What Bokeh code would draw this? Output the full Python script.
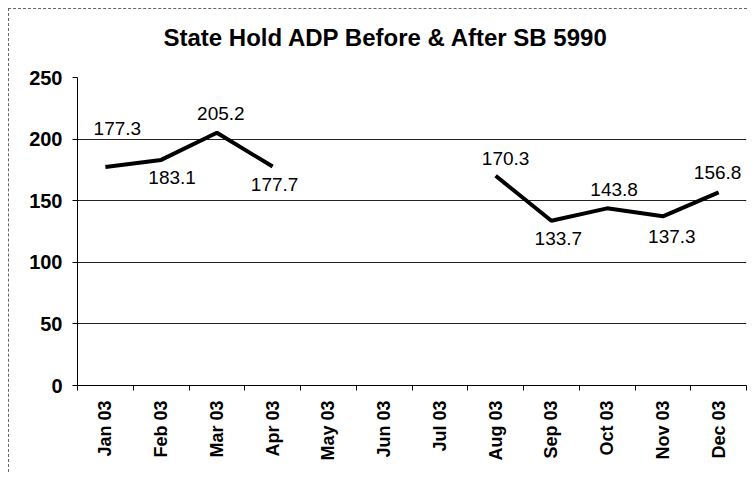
import math
from bokeh.plotting import figure
from bokeh.models import ColumnDataSource, Range1d, FixedTicker, Title
from bokeh.core.properties import value
from bokeh.embed import file_html
from bokeh.resources import INLINE

# ---- data ----
months = ["Jan 03", "Feb 03", "Mar 03", "Apr 03", "May 03", "Jun 03",
          "Jul 03", "Aug 03", "Sep 03", "Oct 03", "Nov 03", "Dec 03"]
adp = [177.3, 183.1, 205.2, 177.7, None, None, None,
       170.3, 133.7, 143.8, 137.3, 156.8]
y_ticks = [0, 50, 100, 150, 200, 250]
title_text = "State Hold ADP Before & After SB 5990"

# label placement (screen px offsets, style only)
lab_dx = [12, 11, 4, 2, 0, 0, 0, 10, 7, 7, 9, -1]
lab_dy = [-39, 18, -19, 18, 0, 0, 0, -17, 18, -19, 20, -20]

FONT = "Liberation Sans"

xs = [i + 0.5 for i in range(len(months))]
ys = [float("nan") if v is None else v for v in adp]
line_src = ColumnDataSource(dict(x=xs, y=ys))

lx, ly, lt, ldx, ldy = [], [], [], [], []
for i, v in enumerate(adp):
    if v is None:
        continue
    lx.append(xs[i]); ly.append(v); lt.append(f"{v:.1f}")
    ldx.append(lab_dx[i]); ldy.append(lab_dy[i])
lab_src = ColumnDataSource(dict(x=lx, y=ly, t=lt, dx=ldx, dy=ldy))

p = figure(width=739, height=464, output_backend="svg", toolbar_location=None,
           x_range=Range1d(0, len(months)), y_range=Range1d(0, 250),
           min_border_left=68, min_border_right=2, min_border_top=68,
           min_border_bottom=88, title=title_text)
p.styles = {"margin-left": "8px", "margin-top": "8px",
            "border-left": "1px dashed #666", "border-top": "1px dashed #666"}

# spacer between title and plot frame
p.add_layout(Title(text=" ", text_font_size="10px", standoff=14), "above")

p.title.align = "left"
p.title.offset = 86
p.title.standoff = 0
p.title.text_font = FONT
p.title.text_font_style = "bold"
p.title.text_font_size = "24px"
p.title.text_color = "black"

p.outline_line_color = None
p.background_fill_color = "white"
p.border_fill_color = "white"

p.line("x", "y", source=line_src, line_color="black", line_width=4)
p.text("x", "y", text="t", source=lab_src, x_offset="dx", y_offset="dy",
       text_align="center", text_baseline="middle",
       text_font=value(FONT), text_font_size="19px", text_color="black")

# axes
p.xgrid.grid_line_color = None
p.ygrid.grid_line_color = "#222222"
p.ygrid.grid_line_width = 1
p.yaxis.ticker = FixedTicker(ticks=y_ticks)
p.yaxis.minor_tick_line_color = None
p.yaxis.major_tick_out = 5
p.yaxis.major_tick_in = 0
p.yaxis.major_label_standoff = 10
p.yaxis.axis_line_color = "black"
p.yaxis.major_tick_line_color = "black"

p.xaxis.ticker = FixedTicker(ticks=xs, minor_ticks=list(range(len(months) + 1)))
p.xaxis.major_label_overrides = {x: m for x, m in zip(xs, months)}
p.xaxis.major_label_orientation = math.pi / 2
p.xaxis.major_tick_out = 0
p.xaxis.major_tick_in = 0
p.xaxis.minor_tick_out = 5
p.xaxis.minor_tick_in = 0
p.xaxis.minor_tick_line_color = "black"
p.xaxis.major_label_standoff = 10
p.xaxis.axis_line_color = "black"

for ax in (p.xaxis[0], p.yaxis[0]):
    ax.major_label_text_font = FONT
    ax.major_label_text_font_style = "bold"
    ax.major_label_text_color = "black"
p.yaxis.major_label_text_font_size = "20px"
p.xaxis.major_label_text_font_size = "18px"

open("out.html", "w").write(file_html(p, INLINE))
